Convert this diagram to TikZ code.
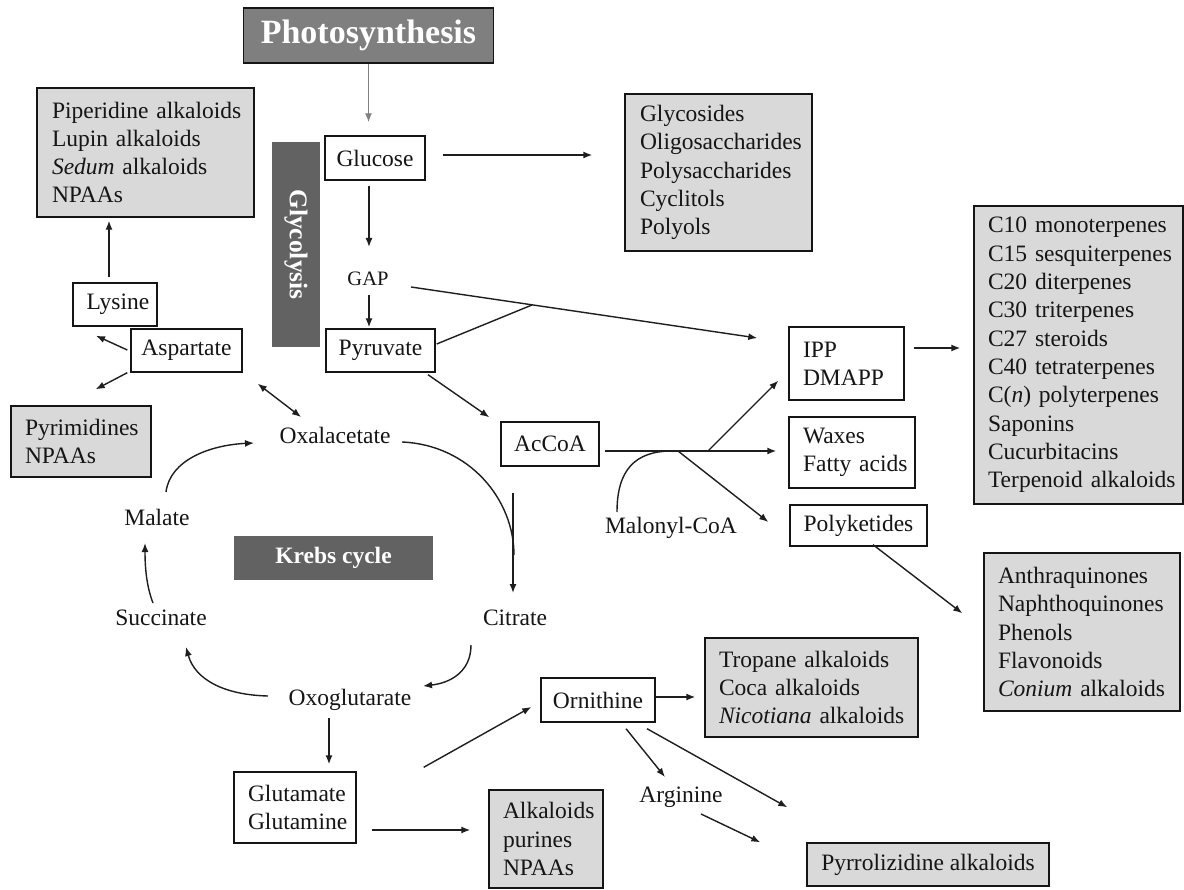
\documentclass[tikz,border=0pt]{standalone}
\usepackage{fontspec}
\setmainfont{Liberation Serif}
\usetikzlibrary{arrows.meta,calc}
\definecolor{boxgray}{HTML}{D9D9D9}
\definecolor{ink}{HTML}{151515}
\definecolor{lin}{HTML}{1E1E1E}
\definecolor{photogray}{HTML}{7F7F7F}
\definecolor{bargray}{HTML}{626262}
\begin{document}
\begin{tikzpicture}[x=1pt,y=-1pt,
  mfont/.style={font=\fontsize{23.5}{28.3}\selectfont},
  txt/.style={mfont, text=ink, inner sep=0pt},
  wbox/.style={mfont, draw=ink, line width=1.4pt, fill=white, text=ink, inner sep=0pt, align=center},
  lbox/.style={mfont, draw=ink, line width=1.4pt, fill=white, text=ink, align=left, inner ysep=0pt},
  gbox/.style={mfont, draw=ink, line width=1.4pt, fill=boxgray, text=ink, align=left, inner ysep=0pt},
  darkbar/.style={fill=bargray, text=white, inner sep=0pt, font=\bfseries\fontsize{25.5}{30}\selectfont},
  arr/.style={draw=lin, line width=1.4pt, -{Latex[length=9pt,width=7pt]}},
  dblarr/.style={draw=lin, line width=1.4pt, {Latex[length=9pt,width=7pt]}-{Latex[length=9pt,width=7pt]}},
  ln/.style={draw=lin, line width=1.4pt}]
\useasboundingbox (0,0) rectangle (1184,890);
\fill[white] (0,0) rectangle (1184,890);

% ---- nodes ----
\node[draw=ink, line width=1.4pt, fill=photogray, text=white, inner sep=0pt,
      minimum width=250pt, minimum height=55pt,
      font=\bfseries\fontsize{34}{40}\selectfont] (photo) at (368.5,35.5) {Photosynthesis};
\node[wbox, minimum width=100pt, minimum height=44pt] (glucose) at (375,158) {Glucose};
\node[darkbar, rotate=-90, minimum width=205pt, minimum height=48pt] (glycolysis) at (296,244.5) {Glycolysis};
\node[txt, font=\fontsize{20.5}{24}\selectfont] (gap) at (368,279) {GAP};
\node[wbox, minimum width=109pt, minimum height=43pt] (pyruvate) at (380.5,350.5) {Pyruvate};

\node[gbox, minimum height=157pt, text width=157pt, inner xsep=15pt] (glycosides) at (718.5,172.5)
  {\mbox{Glycosides}\\\mbox{Oligosaccharides}\\\mbox{Polysaccharides}\\\mbox{Cyclitols}\\\mbox{Polyols}};

\node[gbox, minimum height=129pt, text width=187pt, inner xsep=15pt] (piperidine) at (145.5,152.5)
  {\mbox{Piperidine alkaloids}\\\mbox{Lupin alkaloids}\\\mbox{\textit{Sedum} alkaloids}\\\mbox{NPAAs}};
\node[wbox, minimum width=84pt, minimum height=43pt] (lysine) at (115,304.5) {\hspace*{6pt}Lysine};
\node[wbox, minimum width=111pt, minimum height=43pt] (aspartate) at (186.5,350.5) {Aspartate};
\node[gbox, minimum height=71pt, text width=112pt, inner xsep=14pt] (pyrimidines) at (81,441.5)
  {\mbox{Pyrimidines}\\\mbox{NPAAs}};

\node[txt] (oxal) at (335,435) {Oxalacetate};
\node[darkbar, minimum width=199pt, minimum height=44pt, font=\bfseries\fontsize{23.5}{28}\selectfont] (krebs) at (333.5,558) {Krebs cycle};
\node[txt] (malate) at (157,517) {Malate};
\node[txt] (succinate) at (161,618) {Succinate};
\node[txt] (citrate) at (515,618) {Citrate};
\node[txt] (oxoglut) at (350,700) {Oxoglutarate};

\node[lbox, minimum height=71pt, text width=94pt, inner xsep=14pt] (glutamate) at (295,807.5)
  {\mbox{Glutamate}\\\mbox{Glutamine}};
\node[gbox, minimum height=98pt, text width=86pt, inner xsep=14pt] (alkaloids) at (546,839)
  {\mbox{Alkaloids}\\\mbox{purines}\\\mbox{NPAAs}};
\node[wbox, minimum width=114pt, minimum height=44pt] (ornithine) at (598,700) {Ornithine};
\node[gbox, minimum height=99pt, text width=185pt, inner xsep=14pt] (tropane) at (811.5,687.5)
  {\mbox{Tropane alkaloids}\\\mbox{Coca alkaloids}\\\mbox{\textit{Nicotiana} alkaloids}};
\node[txt] (arginine) at (681,797) {Arginine};
\node[gbox, minimum width=242pt, minimum height=43pt, align=center, inner xsep=0pt] (pyrrol) at (928,864.5) {Pyrrolizidine alkaloids};

\node[wbox, minimum width=98pt, minimum height=44pt] (accoa) at (550,444) {AcCoA};
\node[txt] (malonyl) at (671,528) {Malonyl-CoA};
\node[lbox, minimum height=73pt, text width=87pt, inner xsep=14pt] (ipp) at (846.5,363.5)
  {\mbox{IPP}\\\mbox{DMAPP}};
\node[lbox, minimum height=71pt, text width=98pt, inner xsep=14pt] (waxes) at (852,452.5)
  {\mbox{Waxes}\\\mbox{Fatty acids}};
\node[wbox, minimum width=137pt, minimum height=41pt] (polyketides) at (858.5,525.5) {Polyketides};
\node[gbox, minimum height=158pt, text width=168pt, inner xsep=14pt] (anthra) at (1082,632)
  {\mbox{Anthraquinones}\\\mbox{Naphthoquinones}\\\mbox{Phenols}\\\mbox{Flavonoids}\\\mbox{\textit{Conium} alkaloids}};
\node[gbox, minimum height=298pt, text width=181pt, inner xsep=14pt] (terpenes) at (1078.5,355)
  {\mbox{C10 monoterpenes}\\\mbox{C15 sesquiterpenes}\\\mbox{C20 diterpenes}\\\mbox{C30 triterpenes}\\\mbox{C27 steroids}\\\mbox{C40 tetraterpenes}\\\mbox{C(\textit{n}) polyterpenes}\\\mbox{Saponins}\\\mbox{Cucurbitacins}\\\mbox{Terpenoid alkaloids}};

% junction coordinates
\coordinate (j1) at (532,305);
\coordinate (j2) at (708,451);
\coordinate (j3) at (678,451);

% ---- connectors ----
\draw[arr, draw=gray] (photo.south) -- ($(glucose.north)+(-6.5,-13)$);
\draw[arr] ($(glucose.east)+(17,-3)$) -- ($(glycosides.west)+(-32,-17.5)$);
\draw[arr] ($(glucose.south)+(-6,5)$) -- ($(gap)+(1,-32)$);
\draw[arr] ($(gap)+(1,16)$) -- ($(pyruvate.north)+(-11.5,-1)$);
\draw[arr] ($(gap)+(43,8)$) -- ($(ipp.west)+(-31,-25.5)$);
\draw[ln] ($(pyruvate.east)+(1,-6.5)$) -- (j1);
\draw[arr] ($(pyruvate.south)+(47.5,2)$) -- ($(accoa.north west)+(-11,-4)$);

\draw[arr] ($(accoa.east)+(5,7)$) -- ($(waxes.west)+(-12,-1.5)$);
\draw[arr] (j2) -- ($(ipp.south west)+(-10,-20)$);
\draw[arr] (j3) -- ($(polyketides.west)+(-21,-3.5)$);
\draw[ln] ($(malonyl)+(-54,-16)$) .. controls ($(malonyl)+(-54,-58)$) and ($(malonyl)+(-36,-77)$) .. ($(malonyl)+(1,-77)$);
\draw[arr] ($(ipp.east)+(9,-15.5)$) -- ($(terpenes.west)+(-13,-7)$);
\draw[arr] ($(polyketides.south)+(14.5,-2)$) -- ($(anthra.north west)+(-21,61)$);

\draw[arr] ($(lysine.north)+(-6,-5)$) -- ($(piperidine.south)+(-36.5,3)$);
\draw[arr] ($(aspartate.west)+(-3,-0.5)$) -- ($(lysine.south)+(-19,9)$);
\draw[arr] ($(aspartate.south west)+(-3,0)$) -- ($(pyrimidines.north east)+(-56,-16)$);
\draw[dblarr] ($(aspartate.south east)+(15,11)$) -- ($(oxal)+(-34,-18)$);

\draw[ln] ($(oxal)+(67,7)$) .. controls ($(oxal)+(135,10)$) and ($(citrate)+(-1,-118)$) .. ($(citrate)+(-1,-63)$);
\draw[arr] ($(citrate)+(-2,-125)$) -- ($(citrate)+(-2,-25)$);
\draw[arr] ($(citrate)+(-44,27)$) .. controls ($(citrate)+(-44,54)$) and ($(oxoglut)+(100,-17)$) .. ($(oxoglut)+(73,-14)$);
\draw[arr] ($(oxoglut)+(-82,-4)$) .. controls ($(oxoglut)+(-125,-5)$) and ($(succinate)+(34,62)$) .. ($(succinate)+(25,29)$);
\draw[arr] ($(succinate)+(-8,-15)$) .. controls ($(succinate)+(-15,-33)$) and ($(malate)+(-12,48)$) .. ($(malate)+(-12,26)$);
\draw[arr] ($(malate)+(9,-25)$) .. controls ($(malate)+(13,-57)$) and ($(oxal)+(-125,10)$) .. ($(oxal)+(-81,8)$);

\draw[arr] ($(oxoglut)+(-21,18)$) -- ($(glutamate.north)+(34,-7)$);
\draw[arr] ($(glutamate.east)+(15,22.5)$) -- ($(alkaloids.west)+(-18,-9)$);
\draw[arr] ($(glutamate.north east)+(67,-4)$) -- ($(ornithine.west)+(-9,7)$);
\draw[arr] ($(ornithine.east)+(0,-3)$) -- ($(tropane.west)+(-9,9.5)$);
\draw[arr] ($(ornithine.south)+(28,6)$) -- ($(arginine)+(-16,-20)$);
\draw[arr] ($(ornithine.south)+(49,6)$) -- ($(pyrrol.north west)+(-19,-35)$);
\draw[arr] ($(arginine)+(20,17)$) -- ($(pyrrol.north west)+(-46,0)$);
\end{tikzpicture}
\end{document}
